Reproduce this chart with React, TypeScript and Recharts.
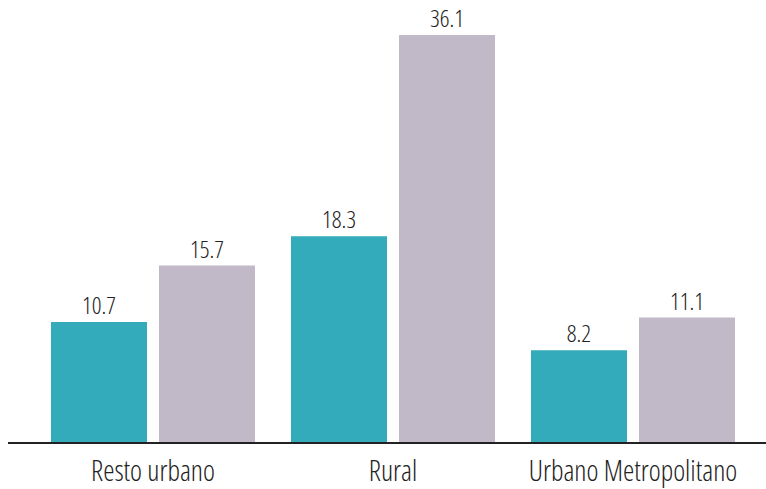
import React from 'react';
import { BarChart, Bar, XAxis, YAxis, LabelList } from 'recharts';

const categories = ['Resto urbano', 'Rural', 'Urbano Metropolitano'];
const serieA = [10.7, 18.3, 8.2];
const serieB = [15.7, 36.1, 11.1];

const data = categories.map((name, i) => ({ name, a: serieA[i], b: serieB[i] }));

const FONT = '"Open Sans", sans-serif';
const textStyle = { fontStretch: '75%', fontWeight: 300 } as React.CSSProperties;

const App: React.FC = () => {
  return (
    <div style={{ position: 'absolute', left: 0, top: 0, width: 766, height: 489, background: '#fff' }}>
      <BarChart
        width={766}
        height={489}
        data={data}
        margin={{ top: 35, right: 0, bottom: 0, left: 8 }}
        barCategoryGap={18}
        barGap={12}
      >
        <XAxis
          dataKey="name"
          height={46}
          axisLine={{ stroke: '#222', strokeWidth: 2 }}
          tickLine={false}
          padding={{ left: 25, right: 13 }}
          tick={{ fill: '#222', fontSize: 28.5, fontFamily: FONT, style: textStyle }}
          tickMargin={12}
          interval={0}
        />
        <YAxis hide domain={[0, 36.1]} />
        <Bar dataKey="a" fill="#33abbb" isAnimationActive={false}>
          <LabelList dataKey="a" position="top" offset={8} fill="#222" fontSize={24} fontFamily={FONT} style={textStyle} />
        </Bar>
        <Bar dataKey="b" fill="#c1b9c7" isAnimationActive={false}>
          <LabelList dataKey="b" position="top" offset={8} fill="#222" fontSize={24} fontFamily={FONT} style={textStyle} />
        </Bar>
      </BarChart>
    </div>
  );
};

export default App;
